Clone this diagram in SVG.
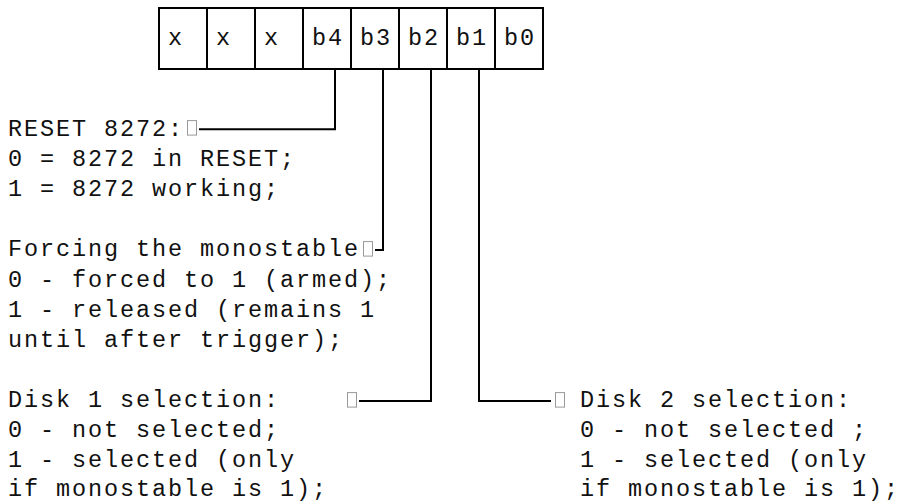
<svg xmlns="http://www.w3.org/2000/svg" width="900" height="504" viewBox="0 0 900 504" xml:space="preserve">
<style>
  .t { font-family: "Courier New", "Nimbus Mono PS", "Liberation Mono", monospace; font-size: 23.5px; letter-spacing: 1.9px; fill: #111; }
  .ln { fill: none; stroke: #000; stroke-width: 2; }
  .tofu { fill: #fff; stroke: #999; stroke-width: 1; }
</style>
<rect width="900" height="504" fill="#fff"/>
<g id="register">
  <rect class="ln" x="159" y="8" width="384" height="61"/>
  <path class="ln" d="M207 8V69M255 8V69M303 8V69M351 8V69M399 8V69M447 8V69M495 8V69"/>
  <text class="t" x="168" y="45">x</text>
  <text class="t" x="216" y="45">x</text>
  <text class="t" x="264" y="45">x</text>
  <text class="t" x="312" y="45">b4</text>
  <text class="t" x="360" y="45">b3</text>
  <text class="t" x="408" y="45">b2</text>
  <text class="t" x="456" y="45">b1</text>
  <text class="t" x="504" y="45">b0</text>
</g>
<g id="connectors">
  <path class="ln" d="M335 69V129.2H199"/>
  <path class="ln" d="M383 69V250H375"/>
  <path class="ln" d="M431 69V401H359"/>
  <path class="ln" d="M479 69V401H551"/>
</g>
<g id="reset-label">
  <text class="t" x="8" y="135.6">RESET 8272:</text>
  <rect class="tofu" x="187.5" y="120.6" width="9" height="14.5"/>
  <text class="t" x="8" y="165.8">0 = 8272 in RESET;</text>
  <text class="t" x="8" y="196">1 = 8272 working;</text>
</g>
<g id="forcing-label">
  <text class="t" x="8" y="256.4">Forcing the monostable</text>
  <rect class="tofu" x="363.5" y="241.6" width="9" height="14.5"/>
  <text class="t" x="8" y="286.6">0 - forced to 1 (armed);</text>
  <text class="t" x="8" y="316.8">1 - released (remains 1</text>
  <text class="t" x="8" y="347">until after trigger);</text>
</g>
<g id="disk1-label">
  <text class="t" x="8" y="407.4">Disk 1 selection:</text>
  <rect class="tofu" x="347.5" y="392.6" width="9" height="14.5"/>
  <text class="t" x="8" y="437">0 - not selected;</text>
  <text class="t" x="8" y="466.5">1 - selected (only</text>
  <text class="t" x="8" y="495.5">if monostable is 1);</text>
</g>
<g id="disk2-label">
  <rect class="tofu" x="555.5" y="392.6" width="9" height="14.5"/>
  <text class="t" x="580" y="407.4">Disk 2 selection:</text>
  <text class="t" x="580" y="437">0 - not selected ;</text>
  <text class="t" x="580" y="466.5">1 - selected (only</text>
  <text class="t" x="580" y="495.5">if monostable is 1);</text>
</g>
</svg>
